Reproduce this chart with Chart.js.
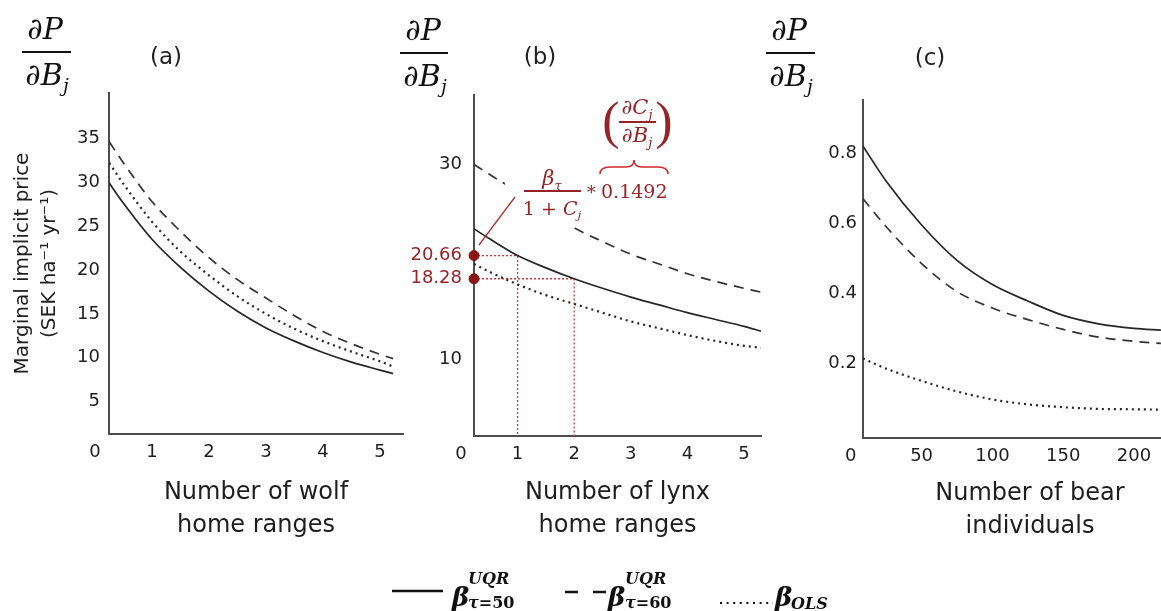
<!DOCTYPE html>
<html><head><meta charset="utf-8">
<script src="https://cdn.jsdelivr.net/npm/chart.js@4.4.1/dist/chart.umd.min.js"></script>
<style>
html,body{margin:0;padding:0;width:1161px;height:611px;overflow:hidden;background:#fff;}
#wrap{position:relative;width:1161px;height:611px;overflow:hidden;background:#fff;}
canvas{position:absolute;left:0;top:0;}
.t{position:absolute;white-space:nowrap;line-height:1;transform:translate(-50%,-50%);}
.l{position:absolute;white-space:nowrap;line-height:1;transform:translate(0,-50%);}
.math{font-family:'DejaVu Serif',serif;font-style:italic;color:#111;}
.up{font-style:normal;}
.sans{font-family:'DejaVu Sans',sans-serif;color:#222;}
.red{color:#962426;}
.sb{font-size:0.62em;position:relative;top:0.38em;}
.lg{font-weight:bold;}
.bar{position:absolute;}
</style></head><body><div id="wrap">
<canvas id="ca" width="1161" height="611"></canvas>
<canvas id="cb" width="1161" height="611"></canvas>
<canvas id="cc" width="1230" height="611"></canvas>

<!-- white backing behind the formula in panel (b) -->
<div style="position:absolute;left:505px;top:160px;width:66px;height:66px;background:#fff"></div>

<svg style="position:absolute;left:0;top:0" width="1161" height="611">
  <line x1="392" y1="591" x2="443" y2="591" stroke="#111" stroke-width="2.5"/>
  <line x1="565" y1="592" x2="578" y2="592" stroke="#111" stroke-width="2.5"/>
  <line x1="593" y1="592" x2="606" y2="592" stroke="#111" stroke-width="2.5"/>
  <line x1="720" y1="603" x2="773" y2="603" stroke="#111" stroke-width="2" stroke-dasharray="2 4.6"/>
  <line x1="515" y1="197" x2="479" y2="245" stroke="#b22c2c" stroke-width="1.3"/>
  <path d="M600,174 Q600,167 610,167 L626,167 Q634,167 634,160 Q634,167 642,167 L658,167 Q668,167 668,174" fill="none" stroke="#d02a2a" stroke-width="1.6"/>
</svg>

<!-- dP / dB_j headers -->
<div class="t math" style="left:45px;top:29px;font-size:30px">∂P</div>
<div class="bar" style="left:22px;top:51px;width:49px;height:2px;background:#111"></div>
<div class="t math" style="left:47px;top:75px;font-size:30px">∂B<span class="sb">j</span></div>

<div class="t math" style="left:423px;top:30px;font-size:30px">∂P</div>
<div class="bar" style="left:400px;top:52px;width:48px;height:2px;background:#111"></div>
<div class="t math" style="left:425px;top:76px;font-size:30px">∂B<span class="sb">j</span></div>

<div class="t math" style="left:789px;top:30px;font-size:30px">∂P</div>
<div class="bar" style="left:766px;top:52px;width:49px;height:2px;background:#111"></div>
<div class="t math" style="left:791px;top:76px;font-size:30px">∂B<span class="sb">j</span></div>

<div class="t sans" style="left:166px;top:56px;font-size:23px">(a)</div>
<div class="t sans" style="left:540px;top:56px;font-size:23px">(b)</div>
<div class="t sans" style="left:930px;top:57px;font-size:23px">(c)</div>

<!-- formula annotation, panel (b) -->
<div class="t math red" style="left:552px;top:178px;font-size:21px">β<span class="sb">τ</span></div>
<div class="bar" style="left:524px;top:190px;width:57px;height:1.5px;background:#962426"></div>
<div class="t math red" style="left:552px;top:208px;font-size:19px"><span class="up">1 + </span>C<span class="sb">j</span></div>
<div class="t red" style="left:591px;top:189px;font-size:18px;font-family:'DejaVu Serif'">∗</div>
<div class="l red" style="left:601px;top:191px;font-size:19px;font-family:'DejaVu Serif'">0.1492</div>
<div class="t red" style="left:611px;top:121px;font-size:52px;font-family:'Liberation Serif'">(</div>
<div class="t red" style="left:664px;top:121px;font-size:52px;font-family:'Liberation Serif'">)</div>
<div class="t math red" style="left:637px;top:107px;font-size:21px">∂C<span class="sb">j</span></div>
<div class="bar" style="left:619px;top:121px;width:37px;height:1.5px;background:#962426"></div>
<div class="t math red" style="left:637px;top:135px;font-size:21px">∂B<span class="sb">j</span></div>

<!-- legend -->
<div class="l math lg" style="left:452px;top:597px;font-size:26px">β</div>
<div class="l math lg" style="left:468px;top:579px;font-size:16px">UQR</div>
<div class="l math lg" style="left:468px;top:603px;font-size:16px">τ<span class="up">=50</span></div>
<div class="l math lg" style="left:608px;top:597px;font-size:26px">β</div>
<div class="l math lg" style="left:625px;top:579px;font-size:16px">UQR</div>
<div class="l math lg" style="left:625px;top:603px;font-size:16px">τ<span class="up">=60</span></div>
<div class="l math lg" style="left:775px;top:597px;font-size:26px">β</div>
<div class="l math lg" style="left:791px;top:604px;font-size:16px">OLS</div>
</div>

<script>
// ---------- panel (a): wolf ----------
const wolfX      = [0.25, 0.5, 1, 1.5, 2, 2.5, 3, 3.5, 4, 4.5, 5, 5.23];
const wolfUqr50  = [29.9, 27.6, 23.5, 20.3, 17.6, 15.3, 13.4, 11.9, 10.6, 9.5, 8.6, 8.2];
const wolfUqr60  = [34.6, 32.2, 27.8, 24.4, 21.4, 18.9, 16.8, 14.8, 13.0, 11.6, 10.4, 9.9];
const wolfOls    = [32.2, 29.8, 25.5, 22.1, 19.4, 17.0, 15.0, 13.3, 11.9, 10.7, 9.6, 9.0];
const wolfXTicks = [0, 1, 2, 3, 4, 5];
const wolfXLabels = ['0', '1', '2', '3', '4', '5'];
const wolfYTicks = [5, 10, 15, 20, 25, 30, 35];
const wolfYLabels = ['5', '10', '15', '20', '25', '30', '35'];

// ---------- panel (b): lynx ----------
const lynxX      = [0.23, 0.5, 1, 1.5, 2, 2.5, 3, 3.5, 4, 4.5, 5, 5.3];
const lynxUqr50  = [23.4, 22.4, 20.66, 19.4, 18.28, 17.3, 16.4, 15.6, 14.8, 14.1, 13.4, 12.9];
const lynxUqr60  = [30.0, 29.0, 27.2, 25.3, 23.5, 22.1, 20.8, 19.8, 18.8, 18.0, 17.3, 16.9];
const lynxOls    = [19.8, 19.0, 17.7, 16.6, 15.7, 14.8, 13.9, 13.2, 12.5, 11.9, 11.4, 11.2];
const lynxXTicks = [0, 1, 2, 3, 4, 5];
const lynxXLabels = ['0', '1', '2', '3', '4', '5'];
const lynxYTicks = [10, 30];
const lynxYLabels = ['10', '30'];
const lynxMarkX = [1, 2];
const lynxMarkY = [20.66, 18.28];
const lynxMarkLabels = ['20.66', '18.28'];

// ---------- panel (c): bear ----------
const bearX      = [8.6, 25, 50, 75, 100, 125, 150, 175, 200, 219];
const bearUqr50  = [0.82, 0.72, 0.595, 0.494, 0.425, 0.378, 0.337, 0.313, 0.300, 0.295];
const bearUqr60  = [0.67, 0.59, 0.485, 0.405, 0.358, 0.325, 0.297, 0.275, 0.263, 0.257];
const bearOls    = [0.214, 0.185, 0.150, 0.120, 0.097, 0.083, 0.075, 0.070, 0.069, 0.068];
const bearXTicks = [0, 50, 100, 150, 200];
const bearXLabels = ['0', '50', '100', '150', '200'];
const bearYTicks = [0.2, 0.4, 0.6, 0.8];
const bearYLabels = ['0.2', '0.4', '0.6', '0.8'];

// ---------- styling ----------
const INK = '#1e1e1e', AXIS = '#4d4d4d', RED = '#962426', RED_DOT = '#8a1414', RED_GUIDE = '#d03a3a';
const FONT = 'DejaVu Sans';
const STYLE = {
  uqr50: {borderColor: '#262626', borderWidth: 1.7, borderDash: []},
  uqr60: {borderColor: '#333333', borderWidth: 1.7, borderDash: [10, 7]},
  ols:   {borderColor: '#262626', borderWidth: 2.2, borderDash: [2, 4]}
};
function curve(xs, ys, st) {
  return Object.assign({
    data: xs.map((x, i) => ({x: x, y: ys[i]})),
    pointRadius: 0, fill: false, cubicInterpolationMode: 'monotone'
  }, st);
}

function panel(id, c) {
  const tickFont = {family: FONT, size: 18};
  return new Chart(document.getElementById(id), {
    type: 'line',
    data: {datasets: c.datasets},
    options: {
      responsive: false, animation: false, devicePixelRatio: 1, events: [],
      layout: {padding: c.pad},
      plugins: {legend: {display: false}, tooltip: {enabled: false}},
      scales: {
        x: {
          type: 'linear', min: c.xMin, max: c.xMax,
          grid: {display: false, drawTicks: false},
          border: {display: true, color: AXIS, width: 2},
          afterBuildTicks: s => { s.ticks = c.xTicks.map(v => ({value: v})); },
          afterFit: s => { s.height = 110; },
          ticks: {autoSkip: false, maxRotation: 0, padding: 8, color: INK, font: tickFont,
                  callback: (v, i) => c.xLabels[i]},
          title: {display: true, text: c.xTitle, color: INK,
                  font: {family: FONT, size: 24, lineHeight: 1.375},
                  padding: {top: 0, bottom: c.xTitlePad}}
        },
        y: {
          type: 'linear', min: c.yMin, max: c.yMax,
          grid: {display: false, drawTicks: false},
          border: {display: true, color: AXIS, width: 2},
          afterBuildTicks: s => { s.ticks = c.yTicks.map(v => ({value: v})); },
          afterFit: s => { s.width = c.yWidth; },
          ticks: {autoSkip: false, padding: c.yPad, font: tickFont,
                  color: ctx => (c.yColors ? c.yColors[ctx.index] : INK),
                  callback: (v, i) => c.yLabels[i]},
          title: c.yTitle ? {display: true, text: c.yTitle, color: INK,
                  font: {family: FONT, size: 20, lineHeight: 1.35},
                  padding: {top: 9.5, bottom: 0}} : {display: false}
        }
      }
    }
  });
}

// (a)
panel('ca', {
  pad: {left: 0, top: 93, right: 758, bottom: 67}, yWidth: 109, yPad: 9,
  xMin: 0.246, xMax: 5.404, yMin: 1.32, yMax: 40.16,
  xTicks: wolfXTicks, xLabels: wolfXLabels, yTicks: wolfYTicks, yLabels: wolfYLabels,
  xTitle: ['Number of wolf', 'home ranges'], xTitlePad: 1.5,
  yTitle: ['Marginal implicit price', '(SEK ha\u207B\u00B9 yr\u207B\u00B9)'],
  datasets: [
    curve(wolfX, wolfUqr50, STYLE.uqr50),
    curve(wolfX, wolfUqr60, STYLE.uqr60),
    curve(wolfX, wolfOls, STYLE.ols)
  ]
});

// (b)
const lynxXMin = 0.23, lynxYMin = 2.15;
const lynxAllY = lynxYTicks.concat(lynxMarkY).sort((a, b) => a - b);
const lynxAllLabels = lynxAllY.map(v => lynxMarkY.includes(v) ? lynxMarkLabels[lynxMarkY.indexOf(v)] : lynxYLabels[lynxYTicks.indexOf(v)]);
const lynxAllColors = lynxAllY.map(v => lynxMarkY.includes(v) ? RED : INK);
const lynxGuides = lynxMarkX.map((mx, i) => ({
  data: [{x: lynxXMin, y: lynxMarkY[i]}, {x: mx, y: lynxMarkY[i]}, {x: mx, y: lynxYMin}],
  borderColor: RED_GUIDE, borderWidth: 1.3, borderDash: [2, 2], tension: 0, pointRadius: 0, fill: false
}));
panel('cb', {
  pad: {left: 380, top: 95, right: 400, bottom: 65}, yWidth: 94, yPad: 12,
  xMin: lynxXMin, xMax: 5.30, yMin: lynxYMin, yMax: 37.13,
  xTicks: lynxXTicks, xLabels: lynxXLabels, yTicks: lynxAllY, yLabels: lynxAllLabels, yColors: lynxAllColors,
  xTitle: ['Number of lynx', 'home ranges'], xTitlePad: 3.5,
  datasets: [
    {data: lynxMarkY.map(y => ({x: lynxXMin, y: y})), showLine: false, pointRadius: 5,
     pointBackgroundColor: RED_DOT, pointBorderColor: RED_DOT, clip: false},
    curve(lynxX, lynxUqr50, STYLE.uqr50),
    curve(lynxX, lynxUqr60, STYLE.uqr60),
    curve(lynxX, lynxOls, STYLE.ols)
  ].concat(lynxGuides)
});

// (c)
panel('cc', {
  pad: {left: 760, top: 100, right: 33, bottom: 63}, yWidth: 103, yPad: 6,
  xMin: 8.6, xMax: 244.5, yMin: -0.013, yMax: 0.952,
  xTicks: bearXTicks, xLabels: bearXLabels, yTicks: bearYTicks, yLabels: bearYLabels,
  xTitle: ['Number of bear', 'individuals'], xTitlePad: 4.5,
  datasets: [
    curve(bearX, bearUqr50, STYLE.uqr50),
    curve(bearX, bearUqr60, STYLE.uqr60),
    curve(bearX, bearOls, STYLE.ols)
  ]
});
</script>
</body></html>
